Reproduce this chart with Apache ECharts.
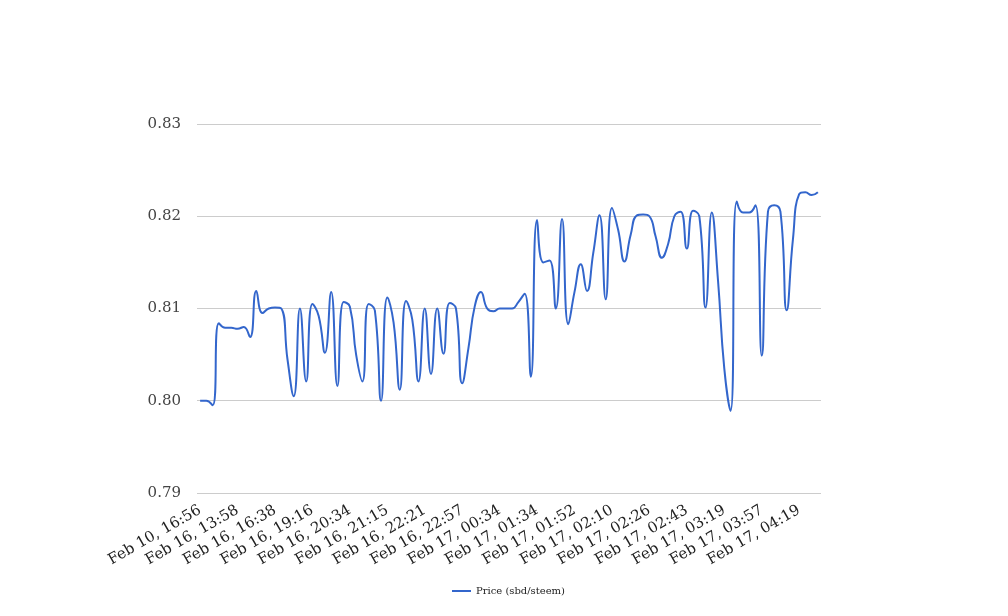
<!DOCTYPE html>
<html>
<head>
<meta charset="utf-8">
<script src="https://cdn.jsdelivr.net/npm/echarts@6/dist/echarts.min.js"></script>
<style>
  html, body { margin: 0; padding: 0; background: #ffffff; }
  #chart { width: 1008px; height: 616px; }
</style>
</head>
<body>
<div id="chart"></div>
<script>
// Visible tick labels (one every 6 points)
const tickLabels = [
  'Feb 10, 16:56', 'Feb 16, 13:58', 'Feb 16, 16:38', 'Feb 16, 19:16',
  'Feb 16, 20:34', 'Feb 16, 21:15', 'Feb 16, 22:21', 'Feb 16, 22:57',
  'Feb 17, 00:34', 'Feb 17, 01:34', 'Feb 17, 01:52', 'Feb 17, 02:10',
  'Feb 17, 02:26', 'Feb 17, 02:43', 'Feb 17, 03:19', 'Feb 17, 03:57',
  'Feb 17, 04:19'
];
const labelEvery = 6;

// Price (sbd/steem) values
const priceValues = [
  0.8000, 0.8000, 0.7995, 0.8084, 0.8079, 0.8079, 0.8078, 0.8080, 0.8069, 0.8119,
  0.8095, 0.8100, 0.8101, 0.8100, 0.8045, 0.8005, 0.8100, 0.8021, 0.8105, 0.8092,
  0.8052, 0.8118, 0.8016, 0.8107, 0.8102, 0.8050, 0.8021, 0.8105, 0.8098, 0.8000,
  0.8112, 0.8085, 0.8012, 0.8108, 0.8088, 0.8021, 0.8100, 0.8029, 0.8100, 0.8051,
  0.8106, 0.8100, 0.8019, 0.8057, 0.8102, 0.8118, 0.8100, 0.8097, 0.8100, 0.8100,
  0.8100, 0.8107, 0.8116, 0.8026, 0.8196, 0.8150, 0.8152, 0.8100, 0.8197, 0.8083,
  0.8118, 0.8148, 0.8119, 0.8160, 0.8201, 0.8110, 0.8209, 0.8185, 0.8151, 0.8180,
  0.8201, 0.8202, 0.8200, 0.8178, 0.8155, 0.8170, 0.8200, 0.8205, 0.8165, 0.8206,
  0.8200, 0.8101, 0.8204, 0.8130, 0.8035, 0.7989, 0.8216, 0.8204, 0.8204, 0.8212,
  0.8049, 0.8205, 0.8212, 0.8205, 0.8098, 0.8175, 0.8224, 0.8226, 0.8223, 0.8226
];

const seriesName = 'Price (sbd/steem)';
const yMin = 0.79, yMax = 0.83, yStep = 0.01;

// category index for each point
const categories = priceValues.map((_, i) => String(i));

const FONT = 'DejaVu Serif';
const chart = echarts.init(document.getElementById('chart'), null, { renderer: 'canvas' });
chart.setOption({
  animation: false,
  backgroundColor: '#ffffff',
  grid: { left: 197, right: 187, top: 124, bottom: 123, containLabel: false },
  legend: {
    data: [{ name: seriesName, icon: 'rect' }],
    bottom: 15,
    left: 447,
    itemWidth: 19,
    itemHeight: 2,
    itemGap: 10,
    textStyle: { fontFamily: FONT, fontSize: 10, color: '#222', padding: [0, 0, 0, 0] }
  },
  xAxis: {
    type: 'category',
    data: categories,
    boundaryGap: true,
    axisLine: { show: false },
    axisTick: { show: false },
    splitLine: { show: false },
    axisLabel: {
      interval: labelEvery - 1,
      rotate: 30,
      margin: 16,
      fontFamily: FONT,
      fontSize: 15,
      color: '#222',
      formatter: function (v, idx) {
        return idx % labelEvery === 0 ? (tickLabels[idx / labelEvery] || '') : '';
      }
    }
  },
  yAxis: {
    type: 'value',
    min: yMin,
    max: yMax,
    interval: yStep,
    axisLine: { show: false },
    axisTick: { show: false },
    splitLine: { lineStyle: { color: '#cccccc', width: 1 } },
    axisLabel: {
      margin: 16,
      fontFamily: FONT,
      fontSize: 15,
      color: '#444',
      formatter: v => v.toFixed(2)
    }
  },
  series: [{
    name: seriesName,
    type: 'line',
    data: priceValues,
    smooth: 0.5,
    showSymbol: false,
    symbol: 'none',
    itemStyle: { color: '#3366cc' },
    lineStyle: { color: '#3366cc', width: 2 }
  }]
});
</script>
</body>
</html>
